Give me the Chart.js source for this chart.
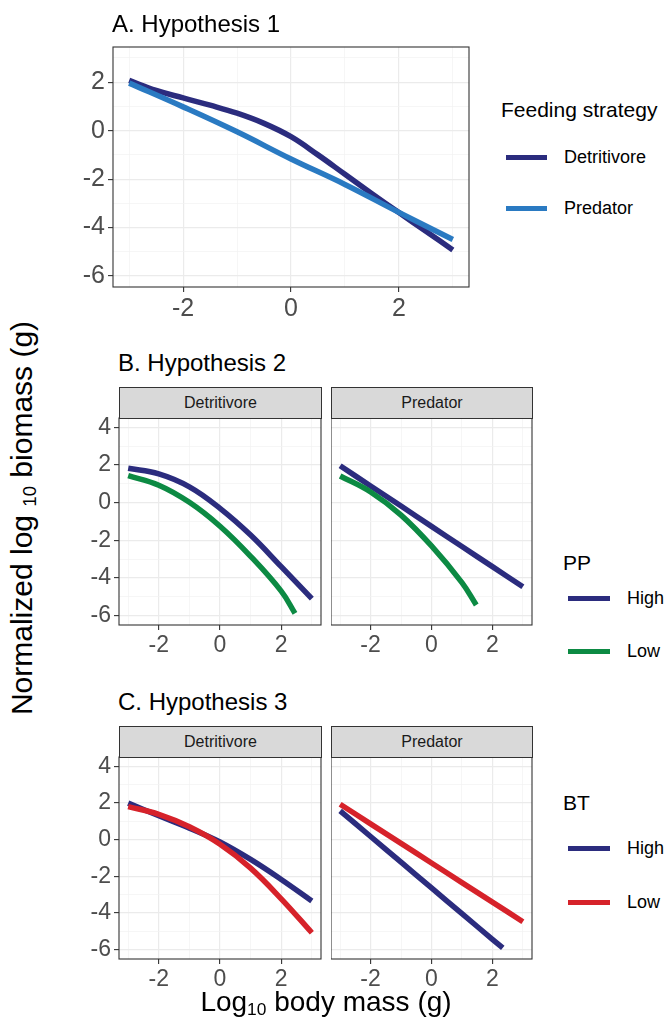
<!DOCTYPE html>
<html>
<head>
<meta charset="utf-8">
<script src="https://cdn.jsdelivr.net/npm/chart.js@4.4.1/dist/chart.umd.min.js"></script>
<style>
  html,body{margin:0;padding:0;background:#fff;}
  body{width:667px;height:1024px;position:relative;overflow:hidden;font-family:"Liberation Sans",Arial,sans-serif;}
  .t{position:absolute;white-space:nowrap;color:#000;}
  .strip{position:absolute;background:#D9D9D9;border:1px solid #333;box-sizing:border-box;font-size:16px;color:#1A1A1A;text-align:center;line-height:29px;}
  .key{position:absolute;height:5px;}
  canvas{position:absolute;}
</style>
</head>
<body>
<script>
// ---------- data ----------
const xTickValues = [-3, -2, -1, 0, 1, 2, 3];
const xMajorTicks = [-2, 0, 2];
const yTickValuesA = [-6, -5, -4, -3, -2, -1, 0, 1, 2, 3];
const yTickValuesBC = [-6, -5, -4, -3, -2, -1, 0, 1, 2, 3, 4];
const yMajorTicks = [-6, -4, -2, 0, 2, 4];
const xRange = [-3.3, 3.3];
const yRangeA = [-6.45, 3.45];
const yRangeBC = [-6.5, 4.5];

// Panel A: Hypothesis 1 (feeding strategy)
const massA_det = [-3, -2.5, -2, -1.5, -1, -0.5, 0, 0.5, 1, 1.5, 2, 2.5, 3];
const biomassA_det = [2.07, 1.66, 1.35, 1.05, 0.72, 0.3, -0.25, -1.0, -1.8, -2.6, -3.38, -4.15, -4.92];
const massA_pred = [-3, -2, -1, 0, 1, 2, 3];
const biomassA_pred = [1.96, 0.98, -0.05, -1.17, -2.22, -3.37, -4.49];

// Panel B: Hypothesis 2 (PP)
const massB_det_high = [-3, -2, -1, 0, 1, 2, 3];
const biomassB_det_high = [1.83, 1.53, 0.84, -0.3, -1.72, -3.4, -5.1];
const massB_det_low = [-3, -2, -1, 0, 1, 2, 2.45];
const biomassB_det_low = [1.44, 0.93, 0.02, -1.25, -2.85, -4.7, -5.88];
const massB_pred_high = [-3, -2, -1, 0, 1, 2, 3];
const biomassB_pred_high = [1.96, 0.89, -0.18, -1.26, -2.33, -3.4, -4.47];
const massB_pred_low = [-3, -2, -1, 0, 1, 1.47];
const biomassB_pred_low = [1.42, 0.57, -0.66, -2.3, -4.25, -5.44];

// Panel C: Hypothesis 3 (BT)
const massC_det_high = [-3, -2, -1, 0, 1, 2, 3];
const biomassC_det_high = [1.99, 1.3, 0.62, -0.13, -1.08, -2.17, -3.34];
const massC_det_low = [-3, -2, -1, 0, 1, 2, 3];
const biomassC_det_low = [1.8, 1.38, 0.7, -0.25, -1.55, -3.22, -5.07];
const massC_pred_high = [-3, -2, -1, 0, 1, 2, 2.34];
const biomassC_pred_high = [1.57, 0.17, -1.23, -2.63, -4.03, -5.43, -5.9];
const massC_pred_low = [-3, -2, -1, 0, 1, 2, 3];
const biomassC_pred_low = [1.93, 0.86, -0.2, -1.27, -2.34, -3.4, -4.47];

// ---------- colours ----------
const NAVY = '#2B2C7E';
const BLUE = '#2A7AC2';
const GREEN = '#0C8A43';
const RED = '#D6222A';

Chart.defaults.font.family = "'Liberation Sans', Arial, sans-serif";

const boxPlugin = {
  id: 'panelBox',
  afterDatasetsDraw(chart) {
    const {ctx, chartArea: a} = chart;
    ctx.save();
    ctx.strokeStyle = '#333333';
    ctx.lineWidth = 1.1;
    ctx.strokeRect(a.left, a.top, a.right - a.left, a.bottom - a.top);
    ctx.restore();
  }
};

function pts(xs, ys) { return xs.map((x, i) => ({x: x, y: ys[i]})); }

function panel(cfg) {
  const Wy = cfg.showY ? 60 : 0, Hx = 45, padT = 20, padR = 4;
  const left = cfg.area.l - Wy, top = cfg.area.t - padT;
  const w = cfg.area.r - left + padR, h = cfg.area.b + Hx - top;
  const cv = document.createElement('canvas');
  cv.width = w; cv.height = h;
  cv.style.left = left + 'px'; cv.style.top = top + 'px';
  cv.style.width = w + 'px'; cv.style.height = h + 'px';
  document.body.appendChild(cv);
  const isMajX = v => xMajorTicks.includes(v);
  const isMajY = v => yMajorTicks.includes(v);
  const n = cfg.series.length;
  new Chart(cv, {
    type: 'line',
    data: {
      datasets: cfg.series.map((s, i) => ({
        label: s.label,
        data: pts(s.xs, s.ys),
        borderColor: s.color,
        backgroundColor: s.color,
        borderWidth: 5.5,
        pointRadius: 0,
        fill: false,
        tension: 0.4,
        borderCapStyle: 'butt',
        order: n - i
      }))
    },
    options: {
      responsive: false,
      animation: false,
      devicePixelRatio: 1,
      layout: {padding: {top: padT, right: padR, left: 0, bottom: 0}},
      plugins: {legend: {display: false}, tooltip: {enabled: false}, title: {display: false}},
      scales: {
        x: {
          type: 'linear', min: xRange[0], max: xRange[1],
          afterBuildTicks: sc => { sc.ticks = xTickValues.map(v => ({value: v})); },
          afterFit: sc => { sc.height = Hx; },
          border: {display: false},
          grid: {
            color: c => (c.tick && isMajX(c.tick.value)) ? '#EBEBEB' : '#F2F2F2',
            lineWidth: c => (c.tick && isMajX(c.tick.value)) ? 1.2 : 0.7,
            tickColor: c => (c.tick && isMajX(c.tick.value)) ? '#333333' : 'rgba(0,0,0,0)',
            tickWidth: 1.1,
            tickLength: 5,
            drawTicks: true
          },
          ticks: {
            autoSkip: false, maxRotation: 0, padding: 2,
            color: '#4D4D4D', font: {size: cfg.tickSize},
            callback: v => isMajX(v) ? String(v) : ''
          }
        },
        y: {
          type: 'linear', min: cfg.yRange[0], max: cfg.yRange[1],
          afterBuildTicks: sc => { sc.ticks = cfg.yTicks.map(v => ({value: v})); },
          afterFit: sc => { sc.width = Wy; },
          border: {display: false},
          grid: {
            color: c => (c.tick && isMajY(c.tick.value)) ? '#EBEBEB' : '#F2F2F2',
            lineWidth: c => (c.tick && isMajY(c.tick.value)) ? 1.2 : 0.7,
            tickColor: c => (c.tick && isMajY(c.tick.value)) ? '#333333' : 'rgba(0,0,0,0)',
            tickWidth: 1.1,
            tickLength: cfg.showY ? 5 : 0,
            drawTicks: cfg.showY
          },
          ticks: {
            display: cfg.showY, autoSkip: false, padding: 3,
            color: '#4D4D4D', font: {size: cfg.tickSize},
            callback: v => isMajY(v) ? String(v) : ''
          }
        }
      }
    },
    plugins: [boxPlugin]
  });
}

function text(str, left, top, size, extra) {
  const d = document.createElement('div');
  d.className = 't';
  d.innerHTML = str;
  d.style.left = left + 'px'; d.style.top = top + 'px';
  d.style.fontSize = size + 'px'; d.style.lineHeight = size + 'px';
  if (extra) Object.assign(d.style, extra);
  document.body.appendChild(d);
  return d;
}
function strip(label, l, t, r, b) {
  const d = document.createElement('div');
  d.className = 'strip';
  d.textContent = label;
  d.style.left = l + 'px'; d.style.top = t + 'px';
  d.style.width = (r - l + 1) + 'px'; d.style.height = (b - t + 1) + 'px';
  d.style.lineHeight = (b - t - 1) + 'px';
  document.body.appendChild(d);
}
function key(color, l, y, w) {
  const d = document.createElement('div');
  d.className = 'key';
  d.style.background = color;
  d.style.left = l + 'px'; d.style.top = (y - 2.5) + 'px'; d.style.width = w + 'px';
  document.body.appendChild(d);
}

// ---------- panels ----------
panel({area: {l: 113, t: 47, r: 469, b: 287}, showY: true, tickSize: 25,
  yRange: yRangeA, yTicks: yTickValuesA,
  series: [
    {label: 'Detritivore', xs: massA_det, ys: biomassA_det, color: NAVY},
    {label: 'Predator', xs: massA_pred, ys: biomassA_pred, color: BLUE}
  ]});

panel({area: {l: 119, t: 418, r: 321, b: 625}, showY: true, tickSize: 23,
  yRange: yRangeBC, yTicks: yTickValuesBC,
  series: [
    {label: 'High', xs: massB_det_high, ys: biomassB_det_high, color: NAVY},
    {label: 'Low', xs: massB_det_low, ys: biomassB_det_low, color: GREEN}
  ]});
panel({area: {l: 331, t: 418, r: 532, b: 625}, showY: false, tickSize: 23,
  yRange: yRangeBC, yTicks: yTickValuesBC,
  series: [
    {label: 'High', xs: massB_pred_high, ys: biomassB_pred_high, color: NAVY},
    {label: 'Low', xs: massB_pred_low, ys: biomassB_pred_low, color: GREEN}
  ]});

panel({area: {l: 119, t: 757, r: 321, b: 959}, showY: true, tickSize: 23,
  yRange: yRangeBC, yTicks: yTickValuesBC,
  series: [
    {label: 'High', xs: massC_det_high, ys: biomassC_det_high, color: NAVY},
    {label: 'Low', xs: massC_det_low, ys: biomassC_det_low, color: RED}
  ]});
panel({area: {l: 331, t: 757, r: 532, b: 959}, showY: false, tickSize: 23,
  yRange: yRangeBC, yTicks: yTickValuesBC,
  series: [
    {label: 'High', xs: massC_pred_high, ys: biomassC_pred_high, color: NAVY},
    {label: 'Low', xs: massC_pred_low, ys: biomassC_pred_low, color: RED}
  ]});

// ---------- strips ----------
strip('Detritivore', 119, 387, 321, 418);
strip('Predator', 331, 387, 532, 418);
strip('Detritivore', 119, 726, 321, 757);
strip('Predator', 331, 726, 532, 757);

// ---------- titles ----------
text('A. Hypothesis 1', 112, 12, 24);
text('B. Hypothesis 2', 118, 351, 24);
text('C. Hypothesis 3', 118, 690, 24);

// ---------- legends ----------
text('Feeding strategy', 501, 99, 21);
key(NAVY, 506, 157, 41); text('Detritivore', 564, 148, 18);
key(BLUE, 506, 208, 41); text('Predator', 564, 199, 18);

text('PP', 563, 552, 21);
key(NAVY, 568, 598, 42); text('High', 627, 589, 18);
key(GREEN, 568, 651, 42); text('Low', 627, 642, 18);

text('BT', 563, 792, 21);
key(NAVY, 568, 848, 42); text('High', 627, 839, 18);
key(RED, 568, 902, 42); text('Low', 627, 893, 18);

// ---------- axis titles ----------
text('Normalized log <span style="font-size:0.62em;position:relative;top:0.2em">10</span> biomass (g)', 24, 518, 30,
  {transform: 'translate(-50%,-50%) rotate(-90deg)'});
text('Log<span style="font-size:0.62em;position:relative;top:0.25em">10</span> body mass (g)', 326, 988, 28,
  {transform: 'translateX(-50%)'});
</script>
</body>
</html>
